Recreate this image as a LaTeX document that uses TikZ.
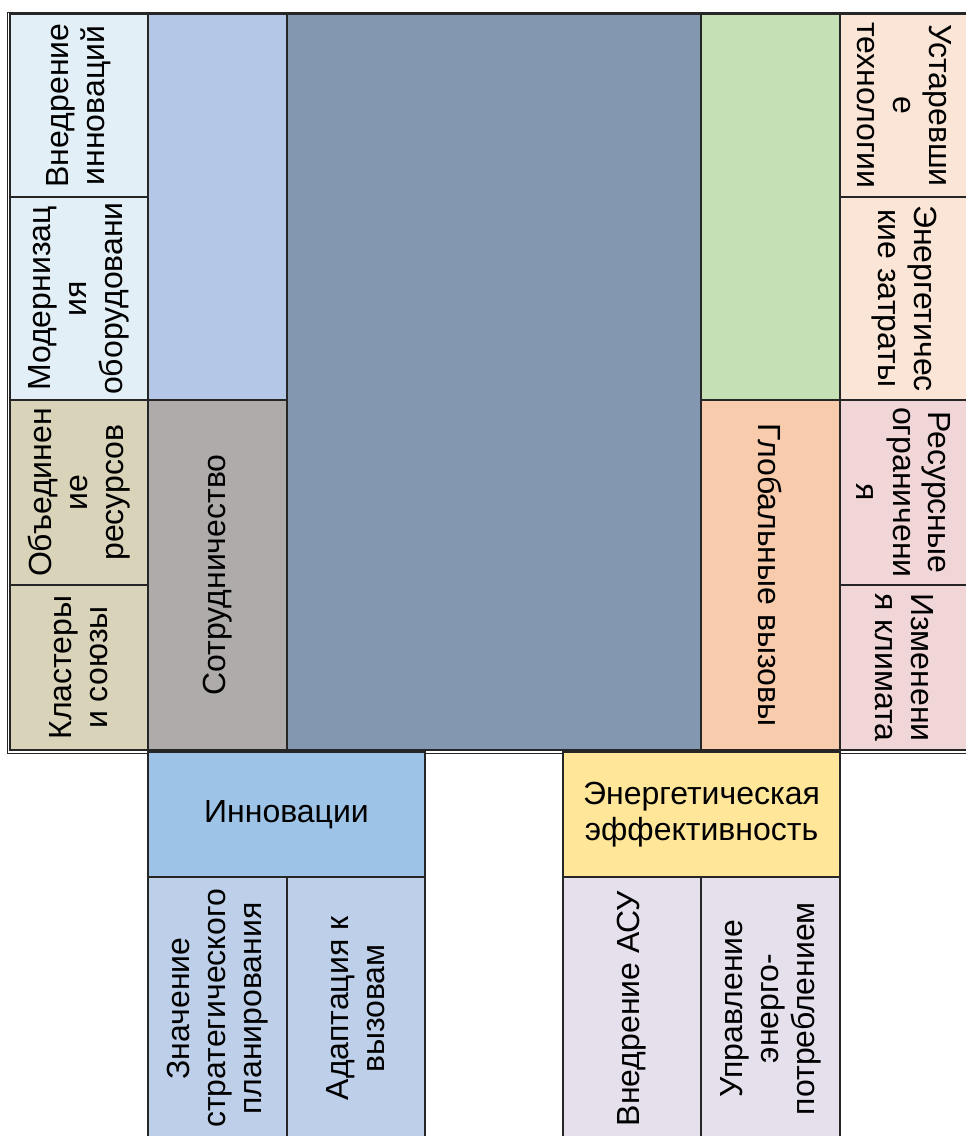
\documentclass[tikz,border=0pt]{standalone}
\usepackage{fontspec}
\setmainfont{Liberation Sans}
\usepackage{tikz}
\usetikzlibrary{positioning}
\definecolor{innolight}{HTML}{E2EFF6}
\definecolor{cooptan}{HTML}{D9D3BA}
\definecolor{innoblue}{HTML}{B4C7E7}
\definecolor{coopgray}{HTML}{AFABAB}
\definecolor{coreslate}{HTML}{8497B0}
\definecolor{energreen}{HTML}{C5E0B4}
\definecolor{globorange}{HTML}{F8CBAD}
\definecolor{techpeach}{HTML}{FBE5D6}
\definecolor{climpink}{HTML}{F1D6D8}
\definecolor{innohead}{HTML}{9DC3E6}
\definecolor{innosub}{HTML}{BED0E9}
\definecolor{effyellow}{HTML}{FFE699}
\definecolor{efflav}{HTML}{E6E0EC}
\tikzstyle{cell}  =[rectangle, draw=black!85, line width=1.2pt,
                    inner sep=0pt, outer sep=0pt, align=center,
                    font=\fontsize{32}{36}\selectfont]
\tikzstyle{up}    =[cell, rotate=90]
\tikzstyle{down}  =[cell, rotate=-90]
\tikzstyle{frame} =[draw=black!85, line width=1pt]

\begin{document}
\begin{tikzpicture}[x=1pt, y=-1pt]
            \useasboundingbox (0,0) rectangle (966,1136);
            \draw[frame] (7,12) rectangle (972,753);
            \node (vnedr) [up, fill=innolight, minimum width=183, minimum height=138]
                at (79,105.5) {Внедрение\\инноваций};
            \node (modern) [up, fill=innolight, minimum width=203, minimum height=138]
                at (79,298.5) {Модернизац\\ия\\оборудовани};
            \node (obed) [up, fill=cooptan, minimum width=185, minimum height=138]
                at (79,492.5) {Объединен\\ие\\ресурсов};
            \node (klast) [up, fill=cooptan, minimum width=165, minimum height=138]
                at (79,667.5) {Кластеры\\и союзы};
            \node (innotop) [cell, fill=innoblue, minimum width=139, minimum height=386]
                at (217.5,207) {};
            \node (sotr) [up, fill=coopgray, minimum width=350, minimum height=139]
                at (217.5,575) {Сотрудничество};
            \node (core) [cell, fill=coreslate, minimum width=414, minimum height=736]
                at (494,382) {};
            \node (greentop) [cell, fill=energreen, minimum width=139, minimum height=386]
                at (770.5,207) {};
            \node (glob) [down, fill=globorange, minimum width=350, minimum height=139]
                at (770.5,575) {Глобальные вызовы};
            \node (ustar) [down, fill=techpeach, minimum width=183, minimum height=128]
                at (904,105.5) {Устаревши\\е\\технологии};
            \node (energz) [down, fill=techpeach, minimum width=203, minimum height=128]
                at (904,298.5) {Энергетичес\\кие затраты};
            \node (resurs) [down, fill=climpink, minimum width=185, minimum height=128]
                at (904,492.5) {Ресурсные\\ограничени\\я};
            \node (klimat) [down, fill=climpink, minimum width=165, minimum height=128]
                at (904,667.5) {Изменени\\я климата};
            \node (innov) [cell, fill=innohead, minimum width=277, minimum height=125]
                at (286.5,814.5) {Инновации};
            \node (znach) [up, fill=innosub, minimum width=263, minimum height=139]
                at (217.5,1008.5) {Значение\\стратегического\\планирования};
            \node (adapt) [up, fill=innosub, minimum width=263, minimum height=138]
                at (356,1008.5) {Адаптация к\\вызовам};
            \node (energeff) [cell, fill=effyellow, minimum width=277, minimum height=125]
                at (701.5,814.5) {Энергетическая\\эффективность};
            \node (asu) [up, fill=efflav, minimum width=263, minimum height=138]
                at (632,1008.5) {Внедрение АСУ};
            \node (upr) [up, fill=efflav, minimum width=263, minimum height=139]
                at (770.5,1008.5) {Управление\\энерго-\\потреблением};

        \end{tikzpicture}
\end{document}
